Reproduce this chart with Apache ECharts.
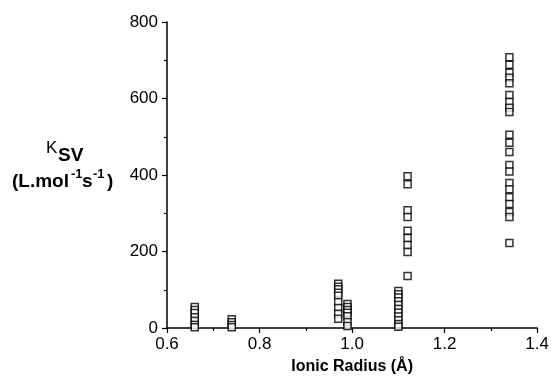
<!DOCTYPE html>
<html>
<head>
<meta charset="utf-8">
<script src="https://cdn.jsdelivr.net/npm/echarts@6/dist/echarts.min.js"></script>
<style>
  html, body { margin: 0; padding: 0; background: #fff; }
  #chart { width: 552px; height: 383px; }
</style>
</head>
<body>
<div id="chart"></div>
<script>
// Stern-Volmer constants (L.mol-1 s-1) measured for each metal ion, grouped by ionic radius (Å)
const radii = [0.66, 0.74, 0.97, 0.99, 1.10, 1.12, 1.34];
const ksv066 = [55, 47, 39, 28, 18, 8, 2];
const ksv074 = [23, 15, 8, 2];
const ksv097 = [116, 108, 101, 92, 84, 68, 52, 37, 24];
const ksv099 = [63, 55, 47, 40, 31, 16, 5];
const ksv110 = [97, 88, 80, 70, 60, 50, 40, 30, 20, 10, 3];
const ksv112 = [397, 376, 308, 290, 254, 235, 217, 199, 136];
const ksv134 = [708, 688, 667, 654, 640, 609, 591, 576, 565, 505, 484, 460, 426, 409,
                379, 363, 342, 324, 303, 290, 222];
const xTicks = [0.6, 0.8, 1.0, 1.2, 1.4];
const yTicks = [0, 200, 400, 600, 800];

const groups = [ksv066, ksv074, ksv097, ksv099, ksv110, ksv112, ksv134];
const points = [];
groups.forEach((vals, i) => vals.forEach(v => points.push([radii[i], v])));

const font = '"Liberation Sans", Arial, sans-serif';
const chart = echarts.init(document.getElementById('chart'));

chart.setOption({
  animation: false,
  backgroundColor: '#fff',
  grid: { left: 167, right: 14, top: 22, bottom: 55, containLabel: false },
  xAxis: {
    type: 'value',
    min: xTicks[0], max: xTicks[xTicks.length - 1], interval: 0.2,
    name: 'Ionic Radius (Å)',
    nameLocation: 'middle', nameGap: 31,
    nameTextStyle: { fontFamily: font, fontSize: 16, fontWeight: 'bold', color: '#000' },
    axisLine: { show: true, onZero: false, lineStyle: { color: '#000', width: 1.5 } },
    axisTick: { show: true, inside: false, length: 5, lineStyle: { color: '#000', width: 1.2 } },
    minorTick: { show: true, splitNumber: 2, length: 3, lineStyle: { color: '#000', width: 1.2 } },
    axisLabel: { fontFamily: font, fontSize: 17, color: '#000', margin: 8,
                 formatter: v => v.toFixed(1) },
    splitLine: { show: false }
  },
  yAxis: {
    type: 'value',
    min: yTicks[0], max: yTicks[yTicks.length - 1], interval: 200,
    axisLine: { show: true, onZero: false, lineStyle: { color: '#000', width: 1.5 } },
    axisTick: { show: true, inside: false, length: 5, lineStyle: { color: '#000', width: 1.2 } },
    minorTick: { show: true, splitNumber: 2, length: 3, lineStyle: { color: '#000', width: 1.2 } },
    axisLabel: { fontFamily: font, fontSize: 17, color: '#000', margin: 9 },
    splitLine: { show: false }
  },
  graphic: [
    { type: 'text', left: 46, top: 140,
      style: { text: 'K', font: '17px ' + font, fill: '#000' } },
    { type: 'text', left: 58, top: 146,
      style: { text: 'SV', font: 'bold 19px ' + font, fill: '#000' } },
    { type: 'text', left: 12, top: 172,
      style: { text: '(L.mol', font: 'bold 19px ' + font, fill: '#000' } },
    { type: 'text', left: 71, top: 168,
      style: { text: '-1', font: 'bold 13px ' + font, fill: '#000' } },
    { type: 'text', left: 82, top: 172,
      style: { text: 's', font: 'bold 19px ' + font, fill: '#000' } },
    { type: 'text', left: 93, top: 168,
      style: { text: '-1', font: 'bold 13px ' + font, fill: '#000' } },
    { type: 'text', left: 107, top: 172,
      style: { text: ')', font: 'bold 19px ' + font, fill: '#000' } }
  ],
  series: [{
    type: 'scatter',
    data: points,
    symbol: 'rect',
    symbolSize: 7,
    itemStyle: { color: '#fff', borderColor: '#000', borderWidth: 1.5 }
  }]
});
</script>
</body>
</html>
